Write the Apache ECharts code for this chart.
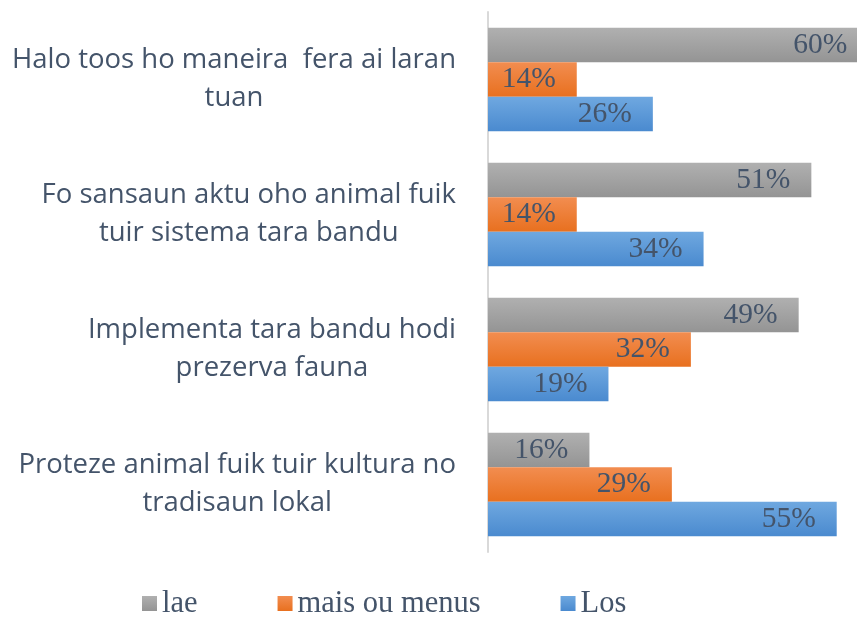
<!DOCTYPE html>
<html>
<head>
<meta charset="utf-8">
<script src="https://cdn.jsdelivr.net/npm/echarts@6/dist/echarts.min.js"></script>
<style>
html,body{margin:0;padding:0;background:#fff;}
#c{width:857px;height:617px;}
</style>
</head>
<body>
<div id="c"></div>
<script>
var categories = [
  "Halo toos ho maneira  fera ai laran\ntuan",
  "Fo sansaun aktu oho animal fuik\ntuir sistema tara bandu",
  "Implementa tara bandu hodi\nprezerva fauna",
  "Proteze animal fuik tuir kultura no\ntradisaun lokal"
];
var seriesNames = ["lae", "mais ou menus", "Los"];
var lae = [60, 51, 49, 16];
var maisOuMenus = [14, 14, 32, 29];
var los = [26, 34, 19, 55];

var chart = echarts.init(document.getElementById('c'));
function grad(top, bottom) {
  return new echarts.graphic.LinearGradient(0, 0, 0, 1, [
    {offset: 0, color: top}, {offset: 1, color: bottom}
  ]);
}
var labelStyle = {
  show: true,
  position: 'insideRight',
  distance: 21,
  formatter: function (p) { return p.value + '%'; },
  fontFamily: 'Liberation Serif',
  fontSize: 29.5,
  color: '#44546A'
};
function mk(name, data, top, bottom) {
  return {
    name: name,
    type: 'bar',
    data: data,
    clip: false,
    barGap: '0%',
    barCategoryGap: '23.3%',
    itemStyle: {color: grad(top, bottom)},
    label: labelStyle,
    silent: true
  };
}
chart.setOption({
  animation: false,
  grid: {left: 488, right: 0, top: 12, bottom: 65, containLabel: false},
  xAxis: {type: 'value', min: 0, max: 58.2, show: false},
  yAxis: {
    type: 'category',
    data: categories,
    inverse: true,
    axisTick: {show: false},
    axisLine: {show: true, lineStyle: {color: '#D9D9D9', width: 2}},
    axisLabel: {
      margin: 32,
      formatter: function (v) {
        return v.split('\n').map(function (s) { return '{c|' + s + '}'; }).join('\n');
      },
      rich: {
        c: {
          align: 'center',
          fontFamily: 'Open Sans',
          fontSize: 27.5,
          lineHeight: 38,
          color: '#44546A'
        }
      }
    }
  },
  legend: {
    data: seriesNames,
    left: 137,
    top: 583,
    itemWidth: 15,
    itemHeight: 15,
    itemGap: 80,
    icon: 'rect',
    textStyle: {fontFamily: 'Liberation Serif', fontSize: 30.5, color: '#44546A'}
  },
  series: [
    mk(seriesNames[0], lae, '#B0B0B0', '#949494'),
    mk(seriesNames[1], maisOuMenus, '#F28D50', '#E8701F'),
    mk(seriesNames[2], los, '#6FA8E0', '#4A8ACF')
  ]
});
</script>
</body>
</html>
